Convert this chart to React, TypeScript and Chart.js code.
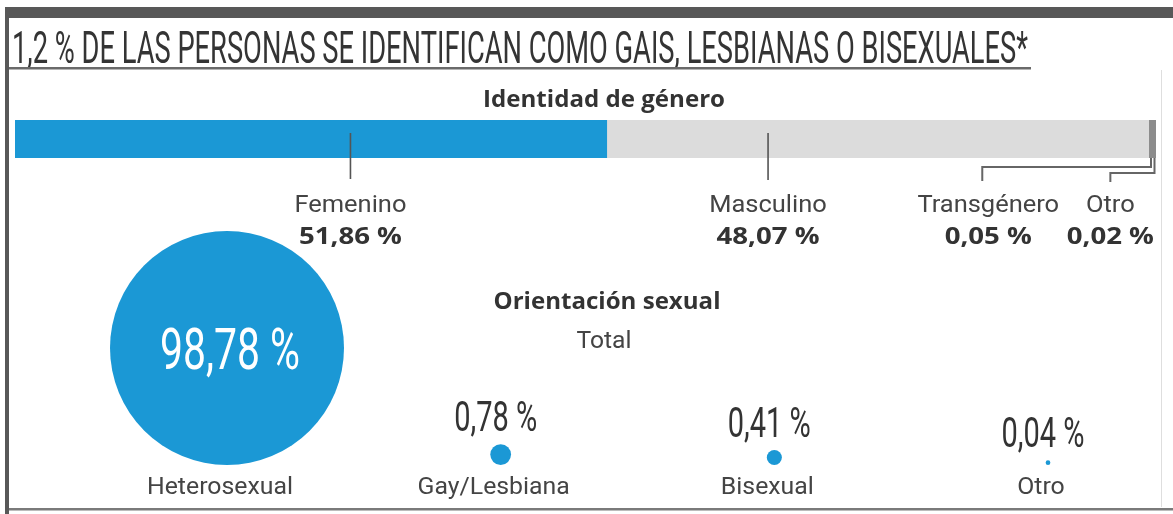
import React, { useEffect, useRef } from "react";
import { Chart, registerables } from "chart.js";

Chart.register(...registerables);

// ---------- data ----------
const TITLE = "1,2 % DE LAS PERSONAS SE IDENTIFICAN COMO GAIS, LESBIANAS O BISEXUALES*";
const GENDER_TITLE = "Identidad de género";
const genderCategories = ["Femenino", "Masculino", "Transgénero", "Otro"];
const genderValues = [51.86, 48.07, 0.05, 0.02];
const ORIENT_TITLE = "Orientación sexual";
const ORIENT_SUB = "Total";
const orientationCategories = ["Heterosexual", "Gay/Lesbiana", "Bisexual", "Otro"];
const orientationValues = [98.78, 0.78, 0.41, 0.04];

// ---------- style / layout ----------
const W = 1173;
const H = 514;
const BLUE = "#1b98d5";
const LIGHT = "#dcdcdc";
const DARK = "#8c8c8c";
const genderColors = [BLUE, LIGHT, DARK, DARK];
// where each gender label sits, expressed on the bar's percentage axis
const genderLabelAt = [29.4, 66.0, 85.3, 96.0];
const R_MAX = 117;
const PLOT_TOP = 200;
const PLOT_BASE = 465;
const PLOT_H = PLOT_BASE - PLOT_TOP;

const fmt = (v: number) => v.toFixed(2).replace(".", ",") + " %";

function measure(ctx: CanvasRenderingContext2D, text: string, font: string) {
  ctx.save();
  ctx.font = font;
  const w = ctx.measureText(text).width;
  ctx.restore();
  return w;
}

function drawText(
  ctx: CanvasRenderingContext2D,
  text: string,
  x: number,
  y: number,
  font: string,
  color: string,
  sx: number,
  align: CanvasTextAlign = "center"
) {
  ctx.save();
  ctx.font = font;
  ctx.fillStyle = color;
  ctx.textAlign = align;
  ctx.textBaseline = "alphabetic";
  ctx.translate(x, y);
  ctx.scale(sx, 1);
  ctx.fillText(text, 0, 0);
  ctx.restore();
}

const genderPlugin = {
  id: "genderDecor",
  beforeDraw(chart: any) {
    const ctx = chart.ctx as CanvasRenderingContext2D;
    ctx.save();
    ctx.fillStyle = "#ffffff";
    ctx.fillRect(0, 0, W, H);
    // frame
    ctx.fillStyle = "#585858";
    ctx.fillRect(5, 7, W - 5, 11);
    ctx.fillRect(5, 7, 4, H - 7);
    ctx.fillStyle = "#7a7a7a";
    ctx.fillRect(9, 508, W - 9, 2.5);
    ctx.strokeStyle = "#dedede";
    ctx.lineWidth = 1;
    ctx.beginPath();
    ctx.moveTo(1161.5, 70);
    ctx.lineTo(1161.5, 507);
    ctx.stroke();
    // title
    const tFont = '400 44px Roboto';
    const sx = 1016 / measure(ctx, TITLE, tFont);
    drawText(ctx, TITLE, 12, 63, tFont, "#343434", sx, "left");
    ctx.fillStyle = "#6a6a6a";
    ctx.fillRect(9, 67, 1022, 2.5);
    // section title
    const gFont = '700 23px "Open Sans"';
    drawText(ctx, GENDER_TITLE, 604, 107, gFont, "#333333", 242 / measure(ctx, GENDER_TITLE, gFont));
    ctx.restore();
  },
  afterDatasetsDraw(chart: any) {
    const ctx = chart.ctx as CanvasRenderingContext2D;
    const xs = chart.scales.x;
    const { top, bottom } = chart.chartArea;
    const xEnd = xs.getPixelForValue(100);
    ctx.save();
    // the two tiny segments, made visible
    ctx.fillStyle = DARK;
    ctx.fillRect(xEnd - 7, top, 7, bottom - top);
    // leader lines
    ctx.strokeStyle = "#555555";
    ctx.lineWidth = 1.6;
    const lx = genderLabelAt.map((v) => xs.getPixelForValue(v));
    ctx.beginPath();
    ctx.moveTo(lx[0], top + 13);
    ctx.lineTo(lx[0], 179);
    ctx.moveTo(lx[1], top + 13);
    ctx.lineTo(lx[1], 180);
    ctx.stroke();
    ctx.strokeStyle = "#666666";
    ctx.lineWidth = 2;
    ctx.beginPath();
    ctx.moveTo(lx[2] - 6, 181);
    ctx.lineTo(lx[2] - 6, 167);
    ctx.lineTo(xEnd - 5, 167);
    ctx.lineTo(xEnd - 5, bottom);
    ctx.moveTo(lx[3], 182);
    ctx.lineTo(lx[3], 173);
    ctx.lineTo(xEnd - 1.5, 173);
    ctx.lineTo(xEnd - 1.5, bottom);
    ctx.stroke();
    // labels
    const nFont = '400 24px Roboto';
    const vFont = '700 23px "Open Sans"';
    const nsx = 112 / measure(ctx, genderCategories[0], nFont);
    const vsx = 103 / measure(ctx, fmt(genderValues[0]), vFont);
    genderCategories.forEach((c, i) => {
      drawText(ctx, c, lx[i], 212, nFont, "#444444", nsx);
      drawText(ctx, fmt(genderValues[i]), lx[i], 244, vFont, "#333333", vsx);
    });
    ctx.restore();
  },
};

const orientPlugin = {
  id: "orientDecor",
  afterDatasetsDraw(chart: any) {
    const ctx = chart.ctx as CanvasRenderingContext2D;
    const meta = chart.getDatasetMeta(0);
    ctx.save();
    const hFont = '700 23px "Open Sans"';
    drawText(ctx, ORIENT_TITLE, 607, 309, hFont, "#333333", 227 / measure(ctx, ORIENT_TITLE, hFont));
    const sFont = '400 24px Roboto';
    drawText(ctx, ORIENT_SUB, 604, 348, sFont, "#444444", 55 / measure(ctx, ORIENT_SUB, sFont));

    const bigFont = '400 58px Roboto';
    const smallFont = '400 42px Roboto';
    const catFont = '400 24px Roboto';
    const ssx = 83 / measure(ctx, fmt(orientationValues[1]), smallFont);
    const csx = 146 / measure(ctx, orientationCategories[0], catFont);
    orientationValues.forEach((v, i) => {
      const el = meta.data[i];
      const r = el.options.radius;
      if (i === 0) {
        const t = fmt(v);
        drawText(ctx, t, el.x + 3, el.y + 21, bigFont, "#ffffff", 140 / measure(ctx, t, bigFont));
      } else {
        drawText(ctx, fmt(v), el.x - 5, el.y - r - 13, smallFont, "#333333", ssx);
      }
      drawText(ctx, orientationCategories[i], el.x - 7, 494, catFont, "#444444", csx);
    });
    ctx.restore();
  },
};

export default function App() {
  const barRef = useRef<HTMLCanvasElement>(null);
  const bubRef = useRef<HTMLCanvasElement>(null);

  useEffect(() => {
    const bar = new Chart(barRef.current as HTMLCanvasElement, {
      type: "bar",
      data: {
        labels: [""],
        datasets: genderCategories.map((c, i) => ({
          label: c,
          data: [genderValues[i]],
          backgroundColor: genderColors[i],
          borderWidth: 0,
          barPercentage: 1,
          categoryPercentage: 1,
          stack: "g",
        })),
      },
      options: {
        indexAxis: "y",
        responsive: false,
        animation: false,
        events: [],
        layout: { autoPadding: false, padding: { left: 15, right: W - 1156, top: 120, bottom: H - 158 } },
        scales: {
          x: { stacked: true, min: 0, max: 100, display: false },
          y: { stacked: true, display: false },
        },
        plugins: { legend: { display: false }, tooltip: { enabled: false } },
      },
      plugins: [genderPlugin],
    } as any);

    const maxV = Math.max(...orientationValues);
    const bub = new Chart(bubRef.current as HTMLCanvasElement, {
      type: "bubble",
      data: {
        datasets: [
          {
            label: "Orientación sexual",
            data: orientationValues.map((v, i) => {
              const r = R_MAX * Math.sqrt(v / maxV);
              return { x: i, y: r, r };
            }),
            backgroundColor: BLUE,
            borderWidth: 0,
            clip: false,
          },
        ],
      },
      options: {
        responsive: false,
        animation: false,
        events: [],
        layout: { autoPadding: false, padding: { left: 227, right: W - 1048, top: PLOT_TOP, bottom: H - PLOT_BASE } },
        scales: {
          x: { type: "linear", min: 0, max: 3, display: false },
          y: { type: "linear", min: 0, max: PLOT_H, display: false },
        },
        plugins: { legend: { display: false }, tooltip: { enabled: false } },
      },
      plugins: [orientPlugin],
    } as any);

    return () => {
      bar.destroy();
      bub.destroy();
    };
  }, []);

  return (
    <div style={{ position: "absolute", left: 0, top: 0, width: W, height: H, background: "#fff" }}>
      <canvas ref={barRef} width={W} height={H} style={{ position: "absolute", left: 0, top: 0 }} />
      <canvas ref={bubRef} width={W} height={H} style={{ position: "absolute", left: 0, top: 0 }} />
    </div>
  );
}
